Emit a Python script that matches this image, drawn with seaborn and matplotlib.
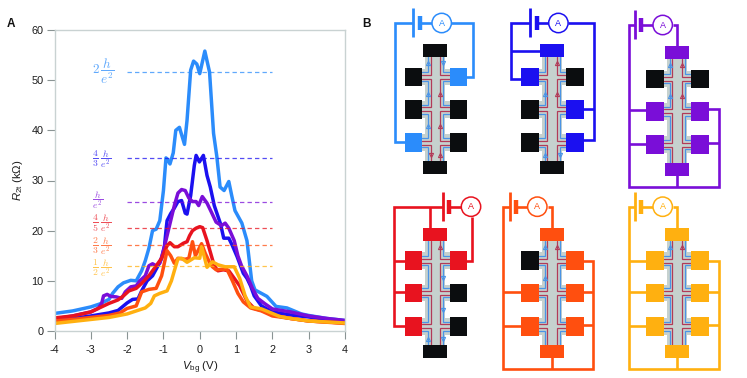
import pandas as pd
import seaborn as sns
import matplotlib
matplotlib.use('Agg')
import matplotlib.pyplot as plt
from matplotlib.patches import Rectangle, Circle

# curves
lightblue_x = [-4, -3.5, -3, -2.75, -2.5, -2.4, -2.25, -2.1, -1.9, -1.75, -1.6, -1.5, -1.4, -1.3, -1.2, -1.1, -1.0, -0.93, -0.9, -0.82, -0.73, -0.66, -0.56, -0.42, -0.35, -0.25, -0.17, -0.08, 0.0, 0.14, 0.27, 0.38, 0.47, 0.56, 0.67, 0.8, 0.88, 0.97, 1.16, 1.3, 1.43, 1.52, 1.85, 2.1, 2.4, 2.6, 2.8, 3, 3.5, 4]
lightblue_y = [3.5, 4.0, 4.8, 5.4, 6.3, 7.5, 8.8, 9.6, 10.1, 10.0, 12, 14, 16.5, 20, 20.3, 22, 28, 34.5, 34.3, 33.3, 35.5, 40, 40.6, 37.2, 42, 52, 53.8, 53.2, 51.3, 55.8, 51.6, 39.4, 34.8, 28.7, 28, 29.8, 27, 24, 21.5, 18, 10, 8.2, 6.9, 4.9, 4.6, 4.0, 3.4, 3.1, 2.5, 2.1]
blue_x = [-4, -3.5, -3, -2.5, -2.25, -2, -1.85, -1.7, -1.6, -1.45, -1.3, -1.15, -1.05, -0.97, -0.93, -0.9, -0.8, -0.7, -0.6, -0.5, -0.4, -0.35, -0.25, -0.2, -0.15, -0.1, -0.01, 0.1, 0.2, 0.29, 0.4, 0.57, 0.66, 0.8, 0.9, 1.03, 1.2, 1.3, 1.4, 1.5, 1.7, 2, 2.5, 3, 3.5, 4]
blue_y = [2, 2.5, 3, 3.6, 4.1, 5.6, 6.3, 6.4, 8, 10, 11, 13, 14.5, 17, 20, 22, 23.4, 24.5, 25.8, 26, 23.5, 23.3, 27, 30, 33, 35, 33.7, 35, 31, 28.7, 25, 21.4, 18.5, 18.5, 17, 14.8, 11.5, 10.5, 9, 7, 5, 3.8, 3.2, 2.8, 2.3, 2]
purple_x = [-4, -3.5, -3, -2.8, -2.7, -2.65, -2.55, -2.45, -2.3, -2.15, -2.05, -1.9, -1.75, -1.65, -1.5, -1.4, -1.3, -1.2, -1.1, -1.0, -0.9, -0.8, -0.7, -0.6, -0.5, -0.4, -0.3, -0.2, -0.1, -0.03, 0.07, 0.2, 0.3, 0.45, 0.6, 0.7, 0.8, 0.95, 1.05, 1.15, 1.3, 1.45, 1.6, 1.8, 2, 2.5, 3, 3.5, 4]
purple_y = [2.4, 3, 3.8, 4.5, 5.5, 7, 7.3, 6.9, 6.8, 6.5, 7.8, 8.8, 9, 10, 11, 13, 13.4, 13, 13.5, 16, 19, 22, 25, 27.5, 28.2, 28, 26.5, 25.8, 25.8, 25, 26.8, 25.5, 24, 21.7, 21, 21.5, 20.5, 18, 15, 13, 11, 8.5, 6.5, 5.4, 4.4, 3.8, 3, 2.5, 2.1]
red_x = [-4, -3.5, -3, -2.5, -2.25, -2.1, -1.95, -1.75, -1.6, -1.4, -1.2, -1.05, -0.9, -0.82, -0.7, -0.6, -0.45, -0.35, -0.28, -0.2, -0.1, 0, 0.08, 0.2, 0.3, 0.4, 0.5, 0.65, 0.8, 0.95, 1.1, 1.3, 1.5, 1.75, 2, 2.5, 3, 4]
red_y = [2.6, 3, 3.8, 5.5, 6.2, 7, 8, 8.5, 9.5, 11, 13, 14.5, 17, 17.6, 16.8, 16.8, 17.5, 17.8, 19, 20, 20.5, 20.8, 20.6, 18, 15.5, 13, 12, 12.2, 12, 10.5, 9, 6, 4.5, 4, 3.2, 2.5, 2, 1.6]
orange_x = [-4, -3.5, -3, -2.5, -2.2, -2, -1.75, -1.6, -1.4, -1.2, -1.05, -0.9, -0.8, -0.7, -0.6, -0.4, -0.3, -0.2, -0.12, -0.05, 0.05, 0.15, 0.28, 0.35, 0.45, 0.6, 0.75, 0.9, 1.05, 1.2, 1.4, 1.7, 2, 2.5, 3, 4]
orange_y = [2, 2.3, 2.7, 3.1, 3.6, 4.5, 5, 7.8, 8.3, 8.5, 11, 16, 15, 13.5, 14.5, 14.3, 14.5, 17.8, 15, 16, 17.4, 15.5, 13.5, 12.8, 12.2, 12.3, 12.3, 10, 7.5, 5.8, 4.6, 4, 3, 2.5, 2, 1.5]
amber_x = [-4, -3.5, -3, -2.5, -2, -1.75, -1.5, -1.35, -1.25, -1.1, -0.9, -0.78, -0.7, -0.6, -0.5, -0.35, -0.15, 0, 0.05, 0.1, 0.2, 0.35, 0.5, 0.7, 0.95, 1.1, 1.25, 1.4, 1.7, 1.9, 2.2, 2.5, 3, 3.5, 4]
amber_y = [1.5, 1.9, 2.3, 2.7, 3.4, 4, 4.6, 5.5, 7, 7.5, 8, 10, 12, 14.4, 14.5, 13.7, 14.6, 14.5, 16.8, 15.5, 12.7, 13.8, 13.2, 12.8, 12.8, 10.5, 7, 4.8, 4.4, 3.8, 2.9, 2.5, 2, 1.8, 1.6]

series_names = ['2', '4/3', '1', '4/5', '2/3', '1/2']
series_x = [lightblue_x, blue_x, purple_x, red_x, orange_x, amber_x]
series_y = [lightblue_y, blue_y, purple_y, red_y, orange_y, amber_y]
series_colors = ['#2b8cfb', '#1b10f0', '#7a0ed8', '#e8131f', '#ff4f0f', '#ffb010']

plateau_y = [51.6, 34.4, 25.8, 20.6, 17.2, 12.9]
plateau_labels = [r'$2\,\dfrac{h}{e^2}$', r'$\dfrac{4}{3}\;\dfrac{h}{e^2}$', r'$\dfrac{h}{e^2}$',
                  r'$\dfrac{4}{5}\;\dfrac{h}{e^2}$', r'$\dfrac{2}{3}\;\dfrac{h}{e^2}$', r'$\dfrac{1}{2}\;\dfrac{h}{e^2}$']
label_y = [51.8, 34.3, 26.2, 21.5, 17.0, 12.6]
label_size = [9.5, 7.0, 7.0, 7.0, 7.0, 7.0]

x_ticks = [-4, -3, -2, -1, 0, 1, 2, 3, 4]
y_ticks = [0, 10, 20, 30, 40, 50, 60]

# which contacts are driven in each scheme (top, left 1-3, right 1-3, bottom)
scheme_origin = [(435.3, 44.3), (552, 44.3), (677, 46.3), (435.3, 228), (552, 228), (677, 228)]
scheme_on = [
    {'l3', 'r1'},
    {'t', 'l1', 'r2', 'r3'},
    {'t', 'l2', 'l3', 'r2', 'r3', 'b'},
    {'t', 'l1', 'l2', 'l3', 'r1'},
    {'t', 'l2', 'l3', 'r1', 'r2', 'r3', 'b'},
    {'t', 'l1', 'l2', 'l3', 'r1', 'r2', 'r3', 'b'},
]
# long plate x, short plate x, meter x
scheme_battery = [(-22, -15.3, 6.4), (-21.7, -15.3, 6.4), (-42, -36, -14.3),
                  (7.7, 14, 35.7), (-42.3, -36, -14.7), (-42, -36, -14.3)]
scheme_wires = [
    [[(-22, -21.6), (-40.3, -21.6), (-40.3, 98), (-30, 98)], [(16, -21.6), (38, -21.6), (38, 32.4), (31, 32.4)]],
    [[(-21.7, -21.6), (-40.7, -21.6), (-40.7, 34.4), (-30, 34.4)], [(-40.7, 6.4), (-11, 6.4)],
     [(16, -21.6), (42.3, -21.6), (42.3, 95.7), (31, 95.7)], [(42.3, 64.7), (31, 64.7)]],
    [[(-42, -21.3), (-48, -21.3), (-48, 141), (42, 141), (42, 63), (31, 63)], [(42, 97), (31, 97)],
     [(-48, 63.7), (-30, 63.7)], [(-48, 97.7), (-30, 97.7)], [(0, 129), (0, 141)], [(-4, -21.3), (0, -21.3), (0, 1)]],
    [[(7.7, -21), (-41, -21), (-41, 98), (-30, 98)], [(-41, 32.7), (-30, 32.7)], [(-41, 64.3), (-30, 64.3)],
     [(-5, -21), (-5, 1)], [(37, -11), (37, 33), (31, 33)]],
    [[(-42.3, -21), (-48.7, -21), (-48.7, 141.3), (41.3, 141.3), (41.3, 33), (31, 33)], [(41.3, 64), (31, 64)],
     [(41.3, 97.3), (31, 97.3)], [(-48.7, 64.3), (-30, 64.3)], [(-48.7, 97.7), (-30, 97.7)], [(0, 129), (0, 141)],
     [(-4, -21), (0, -21), (0, 1)]],
    [[(-42, -21), (-48, -21), (-48, 141), (42, 141), (42, 33), (31, 33)], [(42, 64), (31, 64)], [(42, 97), (31, 97)],
     [(-48, 32.7), (-30, 32.7)], [(-48, 64.3), (-30, 64.3)], [(-48, 97.7), (-30, 97.7)], [(0, 129), (0, 141)],
     [(-4, -21), (0, -21), (0, 1)]],
]
# side, gap, colour, direction of the small edge-channel arrows
scheme_arrows = [
    [('l', 0, 'b', 'u'), ('l', 1, 'b', 'u'), ('l', 2, 'b', 'u'), ('l', 3, 'r', 'd'),
     ('r', 0, 'b', 'd'), ('r', 1, 'r', 'u'), ('r', 2, 'r', 'u'), ('r', 3, 'r', 'u')],
    [('l', 1, 'b', 'u'), ('l', 3, 'b', 'u'), ('r', 0, 'r', 'u'), ('r', 1, 'r', 'u'), ('r', 3, 'b', 'd')],
    [('l', 0, 'b', 'u'), ('l', 1, 'b', 'u'), ('r', 0, 'r', 'u'), ('r', 1, 'r', 'u')],
    [('l', 3, 'b', 'u'), ('r', 0, 'r', 'u'), ('r', 1, 'b', 'd'), ('r', 2, 'b', 'd'), ('r', 3, 'b', 'd')],
    [('l', 0, 'b', 'u'), ('l', 1, 'b', 'u'), ('r', 0, 'r', 'u')],
    [('l', 0, 'b', 'u'), ('r', 0, 'r', 'u')],
]

sns.set_style('white')
plt.rcParams['font.family'] = ['Liberation Sans', 'DejaVu Sans']
plt.rcParams['mathtext.fontset'] = 'custom'
plt.rcParams['mathtext.rm'] = 'Liberation Sans'
plt.rcParams['mathtext.it'] = 'Liberation Sans:italic'
plt.rcParams['mathtext.bf'] = 'Liberation Sans:bold'
plt.rcParams['axes.unicode_minus'] = False

W, H = 747, 378
fig = plt.figure(figsize=(W / 100, H / 100), dpi=100)
ax = fig.add_axes([54.5 / W, 1 - 331 / H, 290.5 / W, 301 / H])

rows = []
for name, xs, ys in zip(series_names, series_x, series_y):
    rows.append(pd.DataFrame({'Vbg': xs, 'R2t': ys, 'state': name}))
data = pd.concat(rows, ignore_index=True)

sns.lineplot(data=data, x='Vbg', y='R2t', hue='state', hue_order=series_names, palette=series_colors,
             estimator=None, sort=False, linewidth=2.5, legend=False, ax=ax, solid_joinstyle='round')

for yv, c, lab, ly, fs in zip(plateau_y, series_colors, plateau_labels, label_y, label_size):
    ax.plot([-2, 2], [yv, yv], color=c, lw=0.9, ls=(0, (3.5, 2.5)), alpha=0.75, zorder=5)
    ax.text(-2.98, ly, lab, color=c, alpha=0.75, fontsize=fs, va='center', ha='left', math_fontfamily='cm')

ax.set_xlim(-4, 4)
ax.set_ylim(0, 60)
ax.set_xticks(x_ticks)
ax.set_yticks(y_ticks)
ax.tick_params(axis='both', direction='out', length=6, width=0.8, color='#8a9494', labelsize=7.8,
               labelcolor='#1c1c1c', pad=2, left=True, bottom=True)
ax.tick_params(axis='x', pad=4)
for s in ax.spines.values():
    s.set_visible(True)
    s.set_color('#c9d2d2')
    s.set_linewidth(1.0)
ax.set_xlabel(r'$V_{\mathrm{bg}}$ (V)', fontsize=8.2, color='#1c1c1c')
ax.set_ylabel(r'$R_{\mathrm{2t}}$ (k$\Omega$)', fontsize=8.2, color='#1c1c1c')
ax.xaxis.set_label_coords(0.5, -0.095)
ax.yaxis.set_label_coords(-0.10, 0.5)

# schematics, in figure pixels
sk = fig.add_axes([0, 0, 1, 1], facecolor='none')
sk.set_xlim(0, W)
sk.set_ylim(H, 0)
sk.axis('off')

sk.text(7, 24, 'A', fontsize=8.5, fontweight='bold', va='center', color='#111111')
sk.text(362, 24, 'B', fontsize=8.5, fontweight='bold', va='center', color='#111111')

row_tops = [23.4, 55.7, 89]
row_h = 18.5
CH_RED = '#b23a58'
CH_BLUE = '#4a94e6'
CH_GRAY = '#c6d1ce'


def box(ox, oy, x0, y0, x1, y1, color, z=3):
    sk.add_patch(Rectangle((ox + x0, oy + y0), x1 - x0, y1 - y0, facecolor=color, edgecolor='none', zorder=z))


def draw_channels(ox, oy):
    box(ox, oy, -10, 12, 10, 118, CH_GRAY, 1)
    for top in row_tops:
        box(ox, oy, -13.5, top + 1, 15, top + row_h - 1, CH_GRAY, 1)
    centers = [t + row_h / 2 for t in row_tops]
    for edge, xr, xb in [(-13, -4.6, -7), (14.4, 5, 8)]:
        for xv, col, d, lw in [(xb, CH_BLUE, 4.5, 0.9), (xr, CH_RED, 2, 0.9)]:
            ys = [(12.7, centers[0] - d, False), (centers[0] + d, centers[1] - d, True),
                  (centers[1] + d, centers[2] - d, True), (centers[2] + d, 117, False)]
            for i, (a, b, closed) in enumerate(ys):
                if closed:
                    px, py = [edge, xv, xv, edge], [a, a, b, b]
                elif i == 0:
                    px, py = [xv, xv, edge], [a, b, b]
                else:
                    px, py = [edge, xv, xv], [a, a, b]
                sk.plot([ox + p for p in px], [oy + p for p in py], color=col, lw=lw, zorder=2,
                        solid_joinstyle='miter')


def draw_arrows(ox, oy, arrows):
    gap_y = [18.5, 50, 82, 111]
    for side, gap, col, way in arrows:
        if side == 'l':
            xv = -4.6 if col == 'r' else -7
        else:
            xv = 5 if col == 'r' else 8
        sk.plot(ox + xv, oy + gap_y[gap], marker='^' if way == 'u' else 'v', ms=3,
                mfc='none', mec=CH_RED if col == 'r' else CH_BLUE, mew=0.8, zorder=2.5, ls='none')


for origin, on, batt, wires, arrows, col in zip(scheme_origin, scheme_on, scheme_battery, scheme_wires,
                                                scheme_arrows, series_colors):
    ox, oy = origin
    draw_channels(ox, oy)
    draw_arrows(ox, oy, arrows)
    for wire in wires:
        sk.plot([ox + p[0] for p in wire], [oy + p[1] for p in wire], color=col, lw=1.9, zorder=2.8,
                solid_joinstyle='miter', solid_capstyle='butt')
    long_x, short_x, meter_x = batt
    wy = -21.3
    sk.plot([ox + long_x] * 2, [oy - 36, oy - 7], color=col, lw=2.0, solid_capstyle='butt', zorder=3)
    sk.plot([ox + short_x] * 2, [oy - 28.3, oy - 14.3], color=col, lw=3.2, solid_capstyle='butt', zorder=3)
    sk.plot([ox + short_x, ox + meter_x], [oy + wy, oy + wy], color=col, lw=1.9, zorder=2.8)
    sk.add_patch(Circle((ox + meter_x, oy + wy), 9.7, facecolor='white', edgecolor=col, lw=1.1, zorder=3))
    sk.text(ox + meter_x, oy + wy, 'A', color=col, fontsize=6.5, ha='center', va='center', zorder=4)

    contacts = {'t': (-12, 0, 12, 12.7), 'b': (-12, 117, 12, 129.7)}
    for i, top in enumerate(row_tops):
        contacts['l%d' % (i + 1)] = (-30.6, top, -13, top + row_h)
        contacts['r%d' % (i + 1)] = (14.4, top, 31.7, top + row_h)
    for key, (x0, y0, x1, y1) in contacts.items():
        box(ox, oy, x0, y0, x1, y1, col if key in on else '#0b0d0f', 3.5)

fig.savefig('out.png', dpi=100)
